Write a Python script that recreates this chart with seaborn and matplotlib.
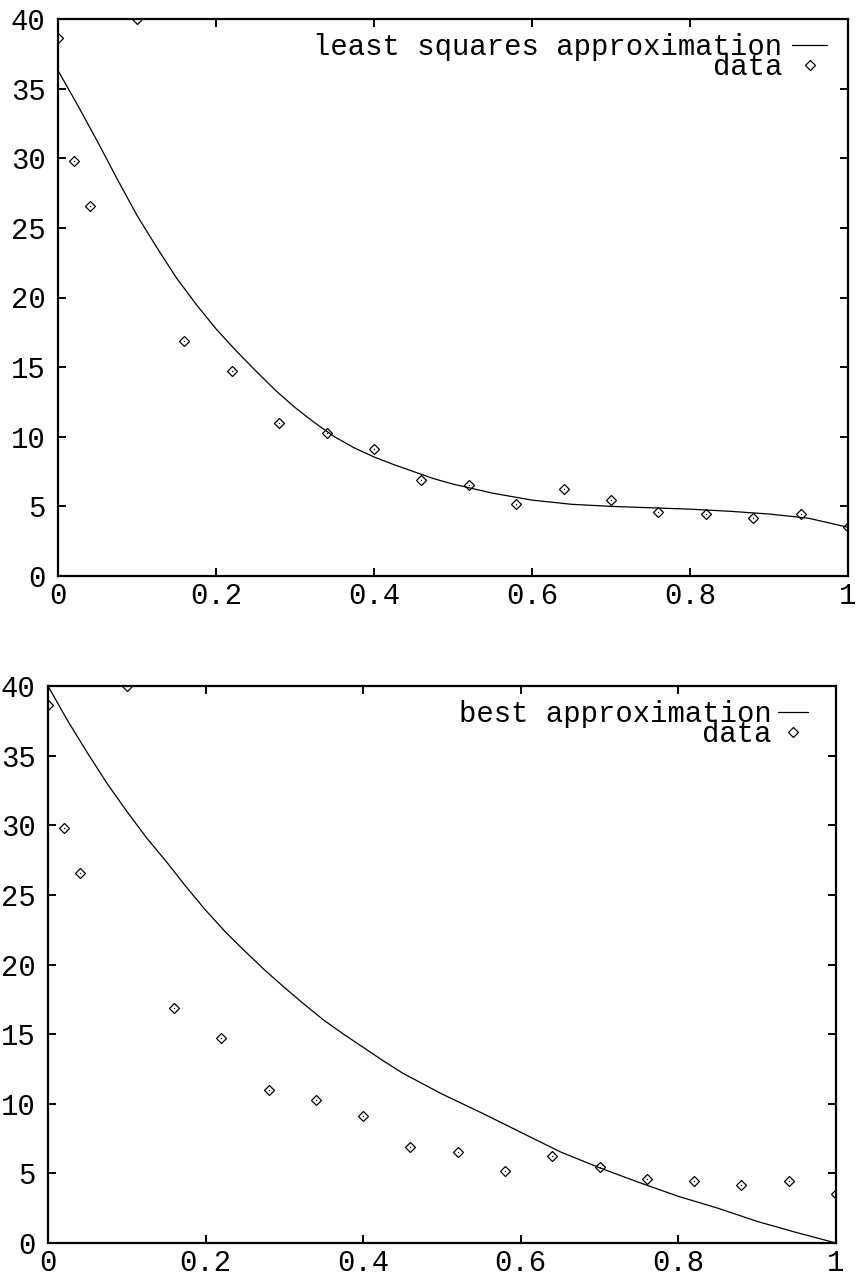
import matplotlib
matplotlib.use("Agg")
import matplotlib.pyplot as plt
import seaborn as sns

# ---- data ----
data_x = [0.0, 0.02, 0.04, 0.10, 0.16, 0.22, 0.28, 0.34, 0.40, 0.46,
          0.52, 0.58, 0.64, 0.70, 0.76, 0.82, 0.88, 0.94, 1.0]
data_y = [38.6, 29.8, 26.6, 40.0, 16.9, 14.7, 11.0, 10.25, 9.1, 6.9,
          6.5, 5.2, 6.25, 5.45, 4.6, 4.45, 4.15, 4.45, 3.5]

curve_x = [0.0, 0.025, 0.05, 0.075, 0.10, 0.125, 0.15, 0.175, 0.20, 0.225,
           0.25, 0.275, 0.30, 0.325, 0.35, 0.375, 0.40, 0.425, 0.45, 0.475,
           0.50, 0.55, 0.60, 0.65, 0.70, 0.75, 0.80, 0.85, 0.90, 0.95, 1.0]
least_squares_y = [36.3, 33.8, 31.2, 28.5, 25.9, 23.6, 21.4, 19.5, 17.75, 16.2,
                   14.75, 13.35, 12.1, 11.0, 10.0, 9.2, 8.55, 8.0, 7.5, 7.0,
                   6.6, 5.95, 5.45, 5.15, 5.0, 4.9, 4.8, 4.65, 4.45, 4.15, 3.5]
best_y = [40.0, 37.5, 35.2, 33.0, 31.0, 29.1, 27.4, 25.6, 23.9, 22.35,
          20.95, 19.6, 18.35, 17.15, 16.0, 15.0, 14.05, 13.1, 12.2, 11.45,
          10.7, 9.35, 7.95, 6.55, 5.4, 4.35, 3.35, 2.5, 1.55, 0.75, 0.0]

x_ticks = [0.0, 0.2, 0.4, 0.6, 0.8, 1.0]
x_tick_labels = ["0", "0.2", "0.4", "0.6", "0.8", "1"]
y_ticks = [0, 5, 10, 15, 20, 25, 30, 35, 40]
y_tick_labels = ["0", "5", "10", "15", "20", "25", "30", "35", "40"]

panel_labels = ["least squares approximation", "best approximation"]
data_label = "data"

# ---- style ----
sns.set_theme(style="ticks", rc={
    "axes.edgecolor": "black", "text.color": "black",
    "xtick.color": "black", "ytick.color": "black",
    "axes.labelcolor": "black", "axes.facecolor": "white",
    "figure.facecolor": "white",
})
plt.rcParams["font.family"] = ["Liberation Mono", "DejaVu Sans Mono"]
FS = 20.8

W, H = 856, 1276
fig = plt.figure(figsize=(W / 100, H / 100), dpi=100)
# axes boxes in pixels: (left, top, right, bottom)
boxes = [(58, 19, 848, 576), (48, 686, 836, 1243)]
legend_anchor = [(0.9734, 0.974), (0.9645, 0.974)]
legend_handle = [(1.2, 0.35), (1.05, 0.2)]
curves = [least_squares_y, best_y]

for box, curve_y, lab, anc, hnd in zip(boxes, curves, panel_labels,
                                       legend_anchor, legend_handle):
    l, t, r, b = box
    ax = fig.add_axes([l / W, (H - b) / H, (r - l) / W, (b - t) / H])
    sns.lineplot(x=curve_x, y=curve_y, ax=ax, color="black", linewidth=0.9,
                 sort=False, label=lab)
    sns.lineplot(x=data_x, y=data_y, ax=ax, color="black", linestyle="none",
                 marker="D", markersize=4.6, markerfacecolor="none",
                 markeredgecolor="black", markeredgewidth=0.9, sort=False,
                 label=data_label)
    # centre dots of the gnuplot diamonds
    sns.lineplot(x=data_x, y=data_y, ax=ax, color="black", linestyle="none",
                 marker="o", markersize=1.0, markeredgewidth=0, sort=False,
                 legend=False)

    ax.set_xlim(0, 1)
    ax.set_ylim(0, 40)
    ax.set_xticks(x_ticks)
    ax.set_xticklabels(x_tick_labels)
    ax.set_yticks(y_ticks)
    ax.set_yticklabels(y_tick_labels)
    ax.set_xlabel("")
    ax.set_ylabel("")
    ax.tick_params(axis="both", direction="in", length=6, width=1.4,
                   top=True, right=True, bottom=True, left=True,
                   labelsize=FS)
    ax.tick_params(axis="x", pad=4)
    ax.tick_params(axis="y", pad=9)
    for s in ax.spines.values():
        s.set_visible(True)
        s.set_linewidth(1.6)
        s.set_color("black")

    handles, labels = ax.get_legend_handles_labels()
    ax.legend(handles=handles[:2], labels=labels[:2], loc="upper right",
              bbox_to_anchor=anc, markerfirst=False, frameon=False,
              handlelength=hnd[0], handletextpad=hnd[1], labelspacing=-0.28,
              borderpad=0, borderaxespad=0, fontsize=FS)

fig.savefig("out.png", dpi=100)
